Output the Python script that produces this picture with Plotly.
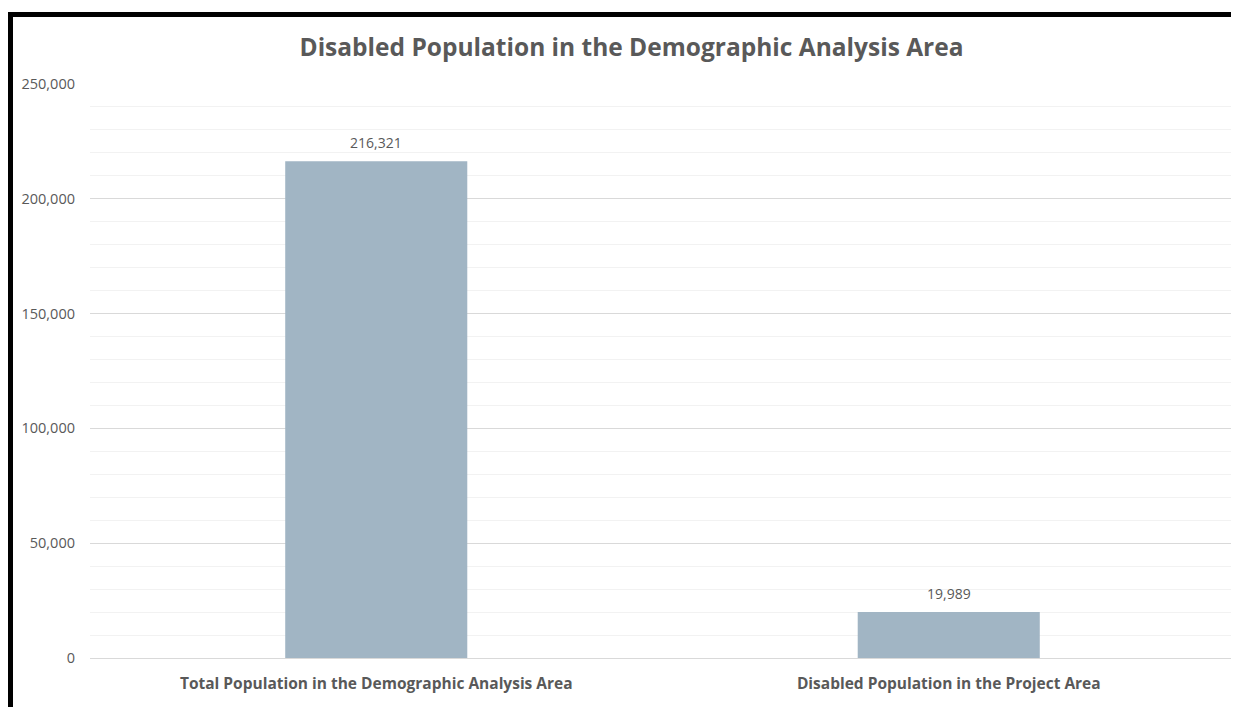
import plotly.graph_objects as go

categories = ["Total Population in the Demographic Analysis Area", "Disabled Population in the Project Area"]
values = [216321, 19989]
tick_vals = [0, 50000, 100000, 150000, 200000, 250000]
tick_text = ["0", "50,000", "100,000", "150,000", "200,000", "250,000"]
title_text = "Disabled Population in the Demographic Analysis Area"

# page is rendered with an 8px body offset; coordinates below are in page pixels
OFF = 8
W, H = 1239, 707
L, R, T, B = 90 - OFF, 12, 84 - OFF, 57
pw, ph = W - L - R, H - T - B

def px(x):
    return (x - OFF - L) / pw

def py(y):
    return (H - B - (y - OFF)) / ph

FONT = "Open Sans"
GREY = "#595959"

fig = go.Figure()
fig.add_trace(go.Bar(
    x=categories, y=values,
    marker=dict(color="#A1B5C4", line=dict(width=0)),
    width=0.318,
    hoverinfo="x+y",
))

for c, v in zip(categories, values):
    fig.add_annotation(x=c, y=v, text=f"{v:,}", showarrow=False,
                       yanchor="bottom", yshift=7,
                       font=dict(family=FONT, size=14, color=GREY))

fig.update_layout(
    width=W, height=H,
    margin=dict(l=L, r=R, t=T, b=B),
    paper_bgcolor="white", plot_bgcolor="white",
    showlegend=False,
    title=dict(text=title_text, x=(631.5 - OFF) / W, xanchor="center",
               y=1 - (47 - OFF) / H, yanchor="middle",
               font=dict(family=FONT, size=24.5, color=GREY, weight="bold")),
    bargap=0.682,
    xaxis=dict(showgrid=False, showline=False, ticks="", ticklabelstandoff=14,
               tickfont=dict(family=FONT, size=15.5, color=GREY, weight="bold")),
    yaxis=dict(range=[0, 250000], tickvals=tick_vals, ticktext=tick_text,
               showgrid=True, gridcolor="#D9D9D9", gridwidth=1,
               zeroline=True, zerolinecolor="#D9D9D9", zerolinewidth=1,
               minor=dict(dtick=10000, showgrid=True, gridcolor="#F2F2F2", gridwidth=1),
               tickfont=dict(family=FONT, size=14.5, color=GREY),
               ticks="", ticklabelstandoff=14),
)

fig.add_shape(type="line", xref="paper", yref="paper",
              x0=px(10.5), x1=px(10.5), y0=py(740), y1=py(14.5),
              line=dict(color="black", width=5))
fig.add_shape(type="line", xref="paper", yref="paper",
              x0=px(8), x1=px(1270), y0=py(14.5), y1=py(14.5),
              line=dict(color="black", width=5))

fig.write_html("out.html")
